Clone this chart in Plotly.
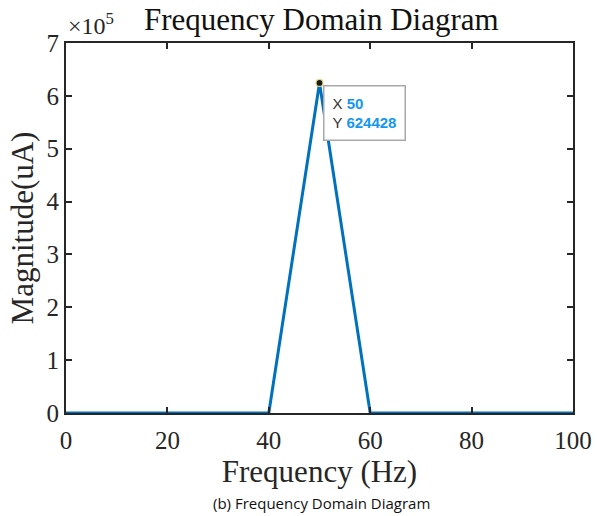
import plotly.graph_objects as go

# Spectrum samples (10 Hz resolution)
freq_hz = [0, 10, 20, 30, 40, 50, 60, 70, 80, 90, 100]
magnitude_ua = [0, 0, 0, 0, 0, 624428, 0, 0, 0, 0, 0]

x_ticks = [0, 20, 40, 60, 80, 100]
y_ticks = [0, 100000, 200000, 300000, 400000, 500000, 600000, 700000]
y_tick_text = ["0", "1", "2", "3", "4", "5", "6", "7"]

peak_x = 50
peak_y = 624428

serif = "Liberation Serif, Times New Roman, serif"
axis_col = "#262626"
line_col = "#0072BD"

fig = go.Figure()
fig.add_trace(go.Scatter(
    x=freq_hz, y=magnitude_ua, mode="lines",
    line=dict(color=line_col, width=3), hoverinfo="skip", showlegend=False,
))
fig.add_trace(go.Scatter(
    x=[peak_x], y=[peak_y], mode="markers",
    marker=dict(size=7, color="#1a1a1a", line=dict(color="#e8d98a", width=1.2)),
    hoverinfo="skip", showlegend=False,
))

axis_common = dict(
    showline=True, linecolor=axis_col, linewidth=2, mirror="ticks",
    ticks="inside", ticklen=6, tickwidth=2, tickcolor=axis_col,
    showgrid=False, zeroline=False,
    tickfont=dict(family=serif, size=25, color=axis_col),
)

fig.update_layout(
    width=610, height=516,
    margin=dict(l=66, r=37, t=43, b=103),
    paper_bgcolor="white", plot_bgcolor="white",
    xaxis=dict(range=[0, 100], tickvals=x_ticks, ticklabelstandoff=4,
               title=dict(text="Frequency (Hz)", font=dict(family=serif, size=31, color=axis_col), standoff=4),
               **axis_common),
    yaxis=dict(range=[0, 700000], tickvals=y_ticks, ticktext=y_tick_text,
               title=dict(text="Magnitude(uA)", font=dict(family=serif, size=31, color=axis_col), standoff=4),
               **axis_common),
    annotations=[
        dict(text="Frequency Domain Diagram", xref="paper", yref="paper", x=0.503, y=1.0,
             xanchor="center", yanchor="bottom", yshift=4, showarrow=False,
             font=dict(family=serif, size=31, color="#111111")),
        dict(text="×10<sup>5</sup>", xref="paper", yref="paper", x=0.0, y=1.0,
             xanchor="left", yanchor="bottom", xshift=0, yshift=2, showarrow=False,
             font=dict(family=serif, size=24, color=axis_col)),
        dict(text="(b) Frequency Domain Diagram", xref="paper", yref="paper", x=0.503, y=0,
             xanchor="center", yanchor="top", yshift=-78, showarrow=False,
             font=dict(family="Open Sans, sans-serif", size=15, color="#111111")),
        dict(text="X <span style='color:#1497f0'><b>50</b></span><br>Y <span style='color:#1497f0'><b>624428</b></span>",
             x=peak_x, y=peak_y, xref="x", yref="y", xanchor="left", yanchor="top",
             xshift=3, yshift=-2, showarrow=False, align="left",
             bgcolor="white", bordercolor="#a8a8a8", borderwidth=1.5, borderpad=8,
             font=dict(family="Liberation Sans, Arial, sans-serif", size=15, color="#333333")),
    ],
)

fig.write_html("out.html")
